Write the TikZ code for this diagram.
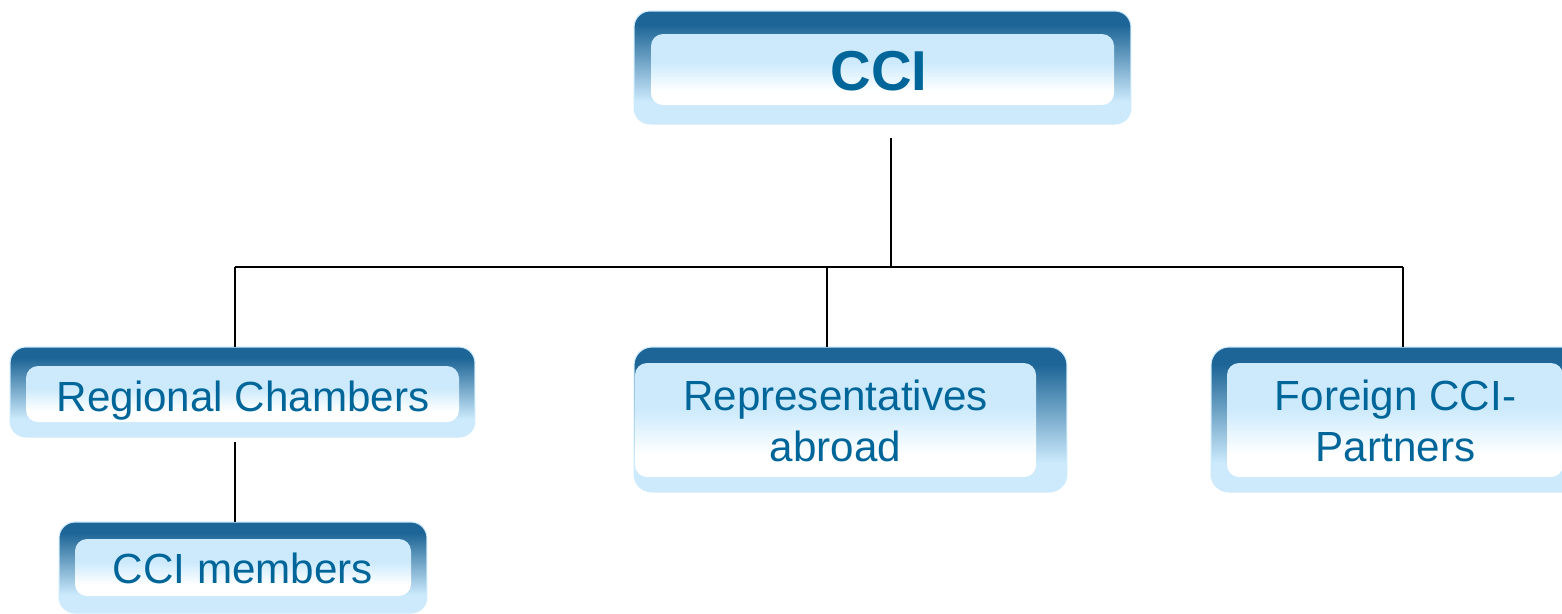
\documentclass[tikz,border=0pt]{standalone}
\usepackage{fontspec}
\setmainfont{Liberation Sans}
\usepackage{tikz}

\definecolor{boxdark}{RGB}{29,101,150}
\definecolor{boxlight}{RGB}{204,234,252}
\definecolor{textblue}{RGB}{0,102,153}
\pgfdeclareverticalshading{outershade}{100bp}{color(0bp)=(boxlight); color(35bp)=(boxlight); color(69bp)=(boxdark); color(100bp)=(boxdark)}
\pgfdeclareverticalshading{innershade}{100bp}{color(0bp)=(white); color(35bp)=(white); color(55bp)=(boxlight); color(100bp)=(boxlight)}

\tikzset{
    outerbox/.style={shade, shading=outershade, draw=boxlight, line width=0.6pt, rounded corners=0.32cm, inner sep=0pt, outer sep=0pt},
    innerbox/.style={shading=innershade, rounded corners=0.24cm},
    boxtext/.style={text=textblue, font=\fontsize{24}{29}\selectfont, align=center, anchor=base},
    link/.style={line width=1.1pt}
}

\begin{document}
\begin{tikzpicture}[x=0.02cm, y=-0.02cm]
    \useasboundingbox (0, 0) rectangle (1562, 613);
    \clip (0, 0) rectangle (1562, 613);

    \node[outerbox, minimum width=9.94cm, minimum height=2.26cm] (cci) at (882.5, 67.5) {};
    \shade[innerbox] (651, 34) rectangle (1114, 105);
    \node[boxtext, font=\bfseries\fontsize{32}{38}\selectfont] (cci-text) at (879, 90) {CCI};

    \node[outerbox, minimum width=9.3cm, minimum height=1.8cm] (regional) at (242.5, 392) {};
    \shade[innerbox] (26, 366) rectangle (459, 422);
    \node[boxtext] (regional-text) at (243, 411) {Regional Chambers};

    \node[outerbox, minimum width=7.36cm, minimum height=1.82cm] (members) at (243, 567.5) {};
    \shade[innerbox] (75, 539) rectangle (411, 596);
    \node[boxtext] (members-text) at (243, 583) {CCI members};

    \node[outerbox, rounded corners=0.36cm, minimum width=8.66cm, minimum height=2.9cm] (reps) at (850.5, 419.5) {};
    \shade[innerbox] (635, 363) rectangle (1036, 477);
    \node[boxtext] (reps-text) at (835.5, 461) {Representatives\\abroad};

    \node[outerbox, rounded corners=0.36cm, minimum width=7.66cm, minimum height=2.9cm] (foreign) at (1402.5, 419.5) {};
    \shade[innerbox] (1227, 363) rectangle (1563, 477);
    \node[boxtext] (foreign-text) at (1395.5, 461) {Foreign CCI-\\Partners};

    \coordinate (bus-t) at (891, 267);
    \coordinate (bus-l) at (235, 267);
    \coordinate (bus-m) at (827, 267);
    \coordinate (bus-r) at (1403, 267);

    \draw[link] (bus-l) -- (bus-r);
    \draw[link, shorten >=0.28cm] (bus-t) -- (bus-t |- cci.south);
    \draw[link] (bus-l) -- (bus-l |- regional.north);
    \draw[link] (bus-m) -- (bus-m |- reps.north);
    \draw[link] (bus-r) -- (bus-r |- foreign.north);
    \draw[link, shorten <=0.1cm] (bus-l |- regional.south) -- (bus-l |- members.north);
\end{tikzpicture}
\end{document}
